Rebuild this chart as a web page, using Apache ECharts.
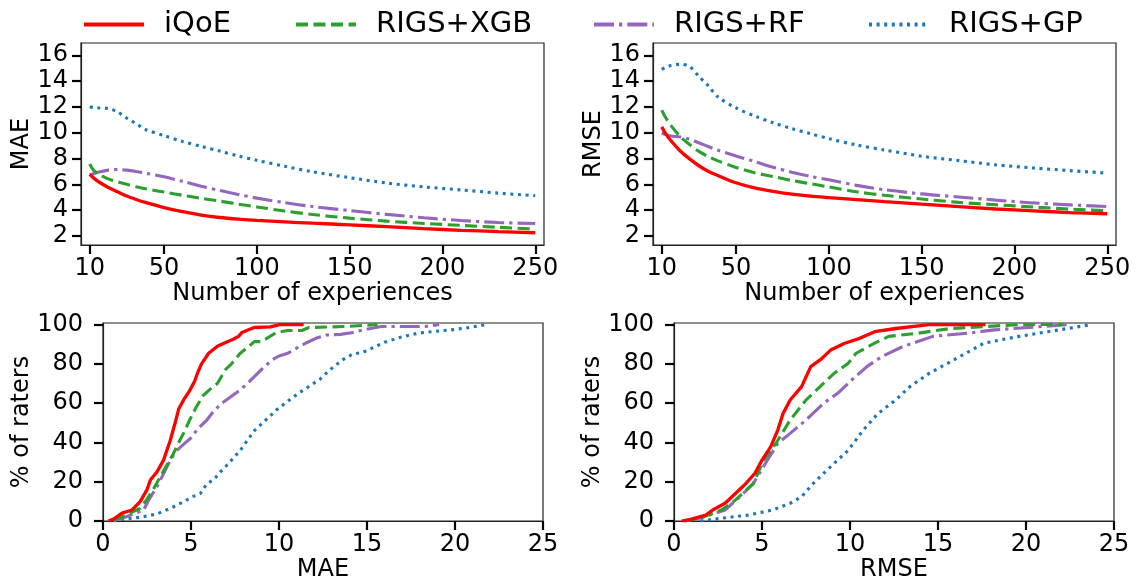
<!DOCTYPE html>
<html>
<head>
<meta charset="utf-8">
<script src="https://cdn.jsdelivr.net/npm/echarts@6/dist/echarts.min.js"></script>
<style>
  html, body { margin: 0; padding: 0; background: #fff; }
  #main { width: 1139px; height: 583px; }
</style>
</head>
<body>
<div id="main"></div>
<script>
// 方法名
var names = ['iQoE', 'RIGS+XGB', 'RIGS+RF', 'RIGS+GP'];

// 上图：经验数
var nExp = [10, 12, 15, 20, 25, 30, 35, 40, 50, 60, 70, 80, 90, 100, 115, 130, 150, 170, 190, 210, 230, 250];
var expTicks = [10, 50, 100, 150, 200, 250];
var errTicks = [2, 4, 6, 8, 10, 12, 14, 16];
var pctTicks = [0, 20, 40, 60, 80, 100];

// MAE vs number of experiences
var maeIqoe = [6.77, 6.5, 6.18, 5.76, 5.42, 5.09, 4.83, 4.6, 4.2, 3.88, 3.62, 3.43, 3.3, 3.2, 3.09, 2.99, 2.86, 2.72, 2.57, 2.44, 2.34, 2.25];
var maeXgb = [7.57, 7.1, 6.78, 6.42, 6.2, 6.0, 5.82, 5.66, 5.4, 5.15, 4.92, 4.7, 4.47, 4.25, 3.93, 3.66, 3.38, 3.15, 2.97, 2.82, 2.67, 2.54];
var maeRf = [6.72, 6.82, 6.95, 7.1, 7.15, 7.1, 7.0, 6.87, 6.58, 6.23, 5.86, 5.52, 5.22, 4.93, 4.58, 4.28, 3.97, 3.67, 3.41, 3.2, 3.04, 2.96];
var maeGp = [12.0, 11.95, 11.92, 11.87, 11.62, 11.12, 10.7, 10.25, 9.78, 9.32, 8.95, 8.58, 8.2, 7.86, 7.4, 6.97, 6.52, 6.1, 5.8, 5.57, 5.32, 5.12];

// RMSE vs number of experiences
var rmseIqoe = [10.45, 9.95, 9.38, 8.58, 7.97, 7.44, 7.02, 6.7, 6.12, 5.72, 5.45, 5.24, 5.08, 4.97, 4.82, 4.66, 4.46, 4.27, 4.09, 3.95, 3.81, 3.72];
var rmseXgb = [11.74, 11.2, 10.55, 9.7, 9.08, 8.55, 8.16, 7.84, 7.31, 6.9, 6.6, 6.3, 6.05, 5.8, 5.42, 5.15, 4.86, 4.6, 4.42, 4.24, 4.08, 3.95];
var rmseRf = [9.98, 9.87, 9.75, 9.66, 9.5, 9.22, 8.93, 8.66, 8.2, 7.77, 7.33, 6.94, 6.62, 6.35, 5.92, 5.58, 5.26, 5.02, 4.78, 4.56, 4.41, 4.28];
var rmseGp = [14.9, 15.05, 15.2, 15.3, 15.12, 14.36, 13.65, 12.8, 11.92, 11.3, 10.77, 10.32, 9.93, 9.54, 9.05, 8.66, 8.18, 7.84, 7.51, 7.27, 7.06, 6.87];

// 下图：CDF [误差, 评分者百分比]
var cdfMaeIqoe = [[0.32,0],[0.6,1],[1.08,4],[1.65,5.6],[2.12,10],[2.5,16],[2.7,21],[3.07,25],[3.44,31],[3.82,41],[4.1,50],[4.3,57],[4.6,62],[4.9,66],[5.2,71],[5.4,76],[5.6,80],[6.0,85.4],[6.5,89],[7.0,91],[7.4,92.5],[7.7,94],[7.9,96],[8.3,97.5],[8.6,98.5],[9.5,98.8],[10.05,100],[11.4,100]];
var cdfMaeXgb = [[0.6,0.5],[1.33,3],[2.09,6.4],[2.47,10.7],[2.85,16],[3.22,22],[3.6,28],[3.98,34],[4.36,41],[4.6,45],[4.9,51],[5.3,58],[5.7,64],[6.2,68],[6.5,70],[6.95,77],[7.3,80],[7.8,85.4],[8.3,89],[8.6,91.3],[9.0,91.3],[9.4,93.5],[9.85,96],[10.5,97],[11.3,97],[11.7,98.5],[13.8,99],[15.6,100]];
var cdfMaeRf = [[0.6,0.2],[1.33,2.2],[2.31,5.6],[2.6,10.7],[3.07,17.5],[3.44,24],[3.82,31],[4.2,36],[4.7,40],[4.96,42],[5.4,47],[5.9,51.4],[6.3,56],[6.75,60],[7.3,63.5],[7.8,66.7],[8.2,70],[8.6,73.5],[9.1,78],[9.6,82],[10.0,84],[10.5,85.4],[11.0,88],[11.5,90.5],[12.1,93],[12.7,94.7],[13.5,95],[14.2,96],[14.8,97.3],[15.8,99],[18.3,99],[19.1,100]];
var cdfMaeGp = [[0.6,0],[1.17,0.9],[2.12,1.9],[3.07,3.6],[3.82,6.4],[4.58,9.8],[5.1,12.4],[5.53,14],[5.9,19],[6.29,21],[6.67,25],[7.0,28],[7.4,32],[7.8,36],[8.2,41],[8.6,46],[9.2,51],[9.85,56.5],[10.5,61],[11.1,65],[11.7,68.5],[12.3,72],[12.9,77],[13.6,82],[14.2,85],[14.8,86],[15.4,88.5],[16.0,91],[16.9,93.5],[17.9,95.6],[18.8,96.5],[19.8,97.3],[20.8,98.5],[21.8,100]];

var cdfRmseIqoe = [[0.45,0],[1.0,1],[1.8,3],[2.2,5.6],[2.9,9],[3.4,13.2],[4.0,18.3],[4.6,24.3],[5.0,31],[5.5,37.9],[5.9,46.4],[6.2,54.8],[6.6,61.6],[7.25,68.4],[7.77,78.6],[8.3,82],[8.9,87],[9.7,90.5],[10.55,93],[11.4,96.4],[12.6,98],[14.5,100],[17.7,100]];
var cdfRmseXgb = [[0.6,0],[1.5,1.5],[2.7,5.6],[3.5,10.7],[4.5,19],[5.1,31],[5.8,39.6],[6.6,51.4],[7.5,61.6],[8.3,68.4],[9.1,75.2],[9.9,80.3],[10.35,85.4],[11.4,90.5],[12.2,94],[13.85,95.6],[15.7,98],[19.6,100],[22.1,100]];
var cdfRmseRf = [[0.6,0],[1.5,1.5],[2.9,5.6],[3.75,12.4],[4.5,19],[5.2,29.4],[5.9,39.6],[6.6,44.6],[7.5,51.4],[8.5,60],[9.3,65],[10.1,71.8],[10.96,78.6],[11.8,83.7],[13.0,88.8],[14.7,94],[16.7,95.6],[18.2,97.3],[20.9,99],[22.5,100]];
var cdfRmseGp = [[1.5,0],[2.7,1.4],[4.2,3],[5.6,5.6],[6.6,9],[7.25,12.4],[7.9,19],[8.7,26],[9.9,36],[10.76,46.4],[11.6,54.8],[12.6,61.6],[13.4,68.4],[14.5,75.2],[15.9,82],[17.6,90.5],[19.6,94],[21.9,97.3],[23.7,100]];

var FONT = 'DejaVu Sans';
var colors = ['#ff0000', '#2ca02c', '#9467bd', '#1f77b4'];
var dashes = ['solid', [12, 5.5], [20, 5, 3.3, 5], [3, 4.6]];

function pairs(xs, ys) {
    return xs.map(function (x, i) { return [x, ys[i]]; });
}

function makeX(idx, min, max, name, ticks, nameGap) {
    var ax = {
        type: 'value', gridIndex: idx, min: min, max: max,
        name: name, nameLocation: 'middle', nameGap: nameGap,
        nameTextStyle: { fontFamily: FONT, fontSize: 24, color: '#000' },
        axisLine: { show: true, onZero: false, lineStyle: { color: '#222', width: 1.2 } },
        axisTick: { show: true, inside: false, length: 9, lineStyle: { color: '#000', width: 2.2 } },
        axisLabel: { fontFamily: FONT, fontSize: 24, color: '#000', margin: 12, showMinLabel: true, showMaxLabel: true },
        splitLine: { show: false }
    };
    if (ticks) {
        ax.axisTick.customValues = ticks;
        ax.axisLabel.customValues = ticks;
    } else {
        ax.interval = 5;
    }
    return ax;
}

function makeY(idx, min, max, name, ticks, nameGap, margin) {
    return {
        type: 'value', gridIndex: idx, min: min, max: max,
        name: name, nameLocation: 'middle', nameGap: nameGap,
        nameTextStyle: { fontFamily: FONT, fontSize: 24, color: '#000' },
        axisLine: { show: true, onZero: false, lineStyle: { color: '#222', width: 1.2 } },
        axisTick: { show: true, inside: false, length: 9, customValues: ticks, lineStyle: { color: '#000', width: 2.2 } },
        axisLabel: { fontFamily: FONT, fontSize: 24, color: '#000', margin: margin, customValues: ticks },
        splitLine: { show: false }
    };
}

function line(name, k, idx, data, smooth) {
    return {
        name: name, type: 'line', xAxisIndex: idx, yAxisIndex: idx,
        data: data, showSymbol: false, symbol: 'none', smooth: smooth,
        z: 10 - k, clip: true, animation: false,
        lineStyle: { color: colors[k], width: k === 0 ? 3.3 : 3.1, type: dashes[k], cap: 'butt' },
        itemStyle: { color: colors[k] }
    };
}

var topMae = [maeIqoe, maeXgb, maeRf, maeGp];
var topRmse = [rmseIqoe, rmseXgb, rmseRf, rmseGp];
var botMae = [cdfMaeIqoe, cdfMaeXgb, cdfMaeRf, cdfMaeGp];
var botRmse = [cdfRmseIqoe, cdfRmseXgb, cdfRmseRf, cdfRmseGp];

var series = [];
for (var k = 0; k < 4; k++) {
    series.push(line(names[k], k, 0, pairs(nExp, topMae[k]), 0.3));
    series.push(line(names[k], k, 1, pairs(nExp, topRmse[k]), 0.3));
    series.push(line(names[k], k, 2, botMae[k], false));
    series.push(line(names[k], k, 3, botRmse[k], false));
}

// 图例：每个方法一个，只画线
var legendLeft = [77, 289, 587, 862];
var legends = names.map(function (n, i) {
    return {
        data: [n], left: legendLeft[i], top: 5,
        itemWidth: 60, itemHeight: 14,
        itemStyle: { opacity: 0 },
        lineStyle: { width: 4, type: dashes[i], color: colors[i], cap: 'butt' },
        textStyle: { fontFamily: FONT, fontSize: 29, color: '#000', padding: [0, 0, 0, 15] }
    };
});

var gridStyle = { show: true, borderColor: '#222', borderWidth: 1.2, backgroundColor: 'transparent', containLabel: false };

var option = {
    backgroundColor: '#fff',
    animation: false,
    legend: legends,
    grid: [
        Object.assign({ left: 81, top: 43, width: 463, height: 202 }, gridStyle),
        Object.assign({ left: 653, top: 43, width: 463, height: 202 }, gridStyle),
        Object.assign({ left: 103, top: 323, width: 440, height: 198 }, gridStyle),
        Object.assign({ left: 674, top: 323, width: 440, height: 198 }, gridStyle)
    ],
    xAxis: [
        makeX(0, 5.3, 254.7, 'Number of experiences', expTicks, 36),
        makeX(1, 5.3, 254.7, 'Number of experiences', expTicks, 36),
        makeX(2, 0, 25, 'MAE', null, 36),
        makeX(3, 0, 25, 'RMSE', null, 36)
    ],
    yAxis: [
        makeY(0, 1.3, 16.95, 'MAE', errTicks, 46, 13),
        makeY(1, 1.3, 16.95, 'RMSE', errTicks, 46, 13),
        makeY(2, 0, 100.8, '% of raters', pctTicks, 68, 20),
        makeY(3, 0, 100.8, '% of raters', pctTicks, 68, 20)
    ],
    series: series
};

var myChart = echarts.init(document.getElementById('main'), null, { renderer: 'canvas' });
myChart.setOption(option);
</script>
</body>
</html>
